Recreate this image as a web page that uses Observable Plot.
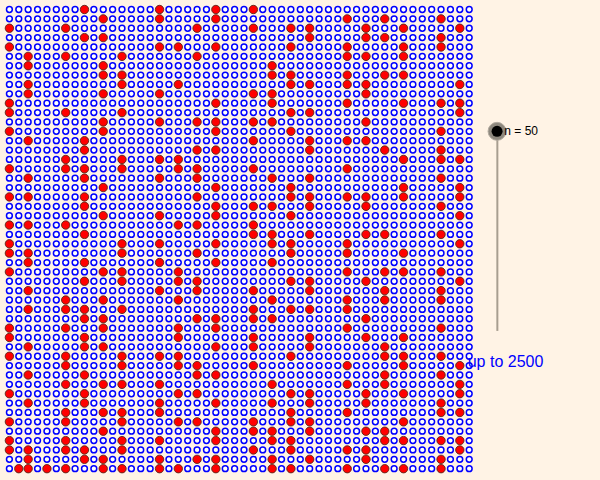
<!DOCTYPE html>
<html>
<head>
<meta charset="utf-8">
<script src="https://cdn.jsdelivr.net/npm/d3@7"></script>
<script src="https://cdn.jsdelivr.net/npm/@observablehq/plot@0.6"></script>
<style>
html,body{margin:0;padding:0;background:#fff3e5;}
svg{display:block;}
</style>
</head>
<body>
<div id="chart"></div>
<script>
const perRow = 50;
const limit = 2500;
const redValues = [
2,3,5,7,11,13,17,19,23,29,31,37,41,43,47,53,59,61,67,71,73,79,83,89,97,
101,103,107,109,113,127,131,137,139,149,151,157,163,167,173,179,181,191,193,197,199,
211,223,227,229,233,239,241,251,257,263,269,271,277,281,283,293,
307,311,313,317,331,337,347,349,353,359,367,373,379,383,389,397,
401,409,419,421,431,433,439,443,449,457,461,463,467,479,487,491,499,
503,509,521,523,541,547,557,563,569,571,577,587,593,599,
601,607,613,617,619,631,641,643,647,653,659,661,673,677,683,691,
701,709,719,727,733,739,743,751,757,761,769,773,787,797,
809,811,821,823,827,829,839,853,857,859,863,877,881,883,887,
907,911,919,929,937,941,947,953,967,971,977,983,991,997,
1009,1013,1019,1021,1031,1033,1039,1049,1051,1061,1063,1069,1087,1091,1093,1097,
1103,1109,1117,1123,1129,1151,1153,1163,1171,1181,1187,1193,
1201,1213,1217,1223,1229,1231,1237,1249,1259,1277,1279,1283,1289,1291,1297,
1301,1303,1307,1319,1321,1327,1361,1367,1373,1381,1399,
1409,1423,1427,1429,1433,1439,1447,1451,1453,1459,1471,1481,1483,1487,1489,1493,1499,
1511,1523,1531,1543,1549,1553,1559,1567,1571,1579,1583,1597,
1601,1607,1609,1613,1619,1621,1627,1637,1657,1663,1667,1669,1693,1697,1699,
1709,1721,1723,1733,1741,1747,1753,1759,1777,1783,1787,1789,
1801,1811,1823,1831,1847,1861,1867,1871,1873,1877,1879,1889,
1901,1907,1913,1931,1933,1949,1951,1973,1979,1987,1993,1997,1999,
2003,2011,2017,2027,2029,2039,2053,2063,2069,2081,2083,2087,2089,2099,
2111,2113,2129,2131,2137,2141,2143,2153,2161,2179,
2203,2207,2213,2221,2237,2239,2243,2251,2267,2269,2273,2281,2287,2293,2297,
2309,2311,2333,2339,2341,2347,2351,2357,2371,2377,2381,2383,2389,2393,2399,
2411,2417,2423,2437,2441,2447,2459,2467,2473,2477
];
const allValues = d3.range(1, limit + 1);
const sliderColumn = [52];
const sliderKnobRow = [36];
const sliderEndRow = [14.65];
const sliderLabel = ["n = 50"];
const limitLabel = ["up to 2500"];

const col = n => (n - 1) % perRow;
const row = n => Math.floor((n - 1) / perRow);

const chart = Plot.plot({
  width: 600,
  height: 480,
  margin: 0,
  style: {background: "#fff3e5", fontFamily: "'Liberation Sans', Arial, sans-serif"},
  x: {domain: [0, 49], range: [8.9, 468.7], axis: null},
  y: {domain: [0, 49], range: [468.2, 9], axis: null},
  marks: [
    Plot.dot(allValues, {x: col, y: row, r: 2.9, fill: "#ffffff", stroke: "#0000ff", strokeWidth: 1.5}),
    Plot.dot(redValues, {x: col, y: row, r: 4.2, fill: "#ff0000", stroke: "#5a2a1a", strokeWidth: 0.9}),
    Plot.ruleX(sliderColumn, {x: d => d, y1: sliderKnobRow[0], y2: sliderEndRow[0], stroke: "#a89e90", strokeWidth: 2}),
    Plot.dot(sliderColumn, {x: d => d - 0.03, y: sliderKnobRow, r: 9, fill: "#8e887e", stroke: "#b3aba0", strokeWidth: 1}),
    Plot.dot(sliderColumn, {x: d => d - 0.03, y: sliderKnobRow, r: 5.5, fill: "#000000"}),
    Plot.text(sliderLabel, {x: sliderColumn[0], y: sliderKnobRow[0], dx: 7, text: d => d, textAnchor: "start", fontSize: 12, fill: "#000000"}),
    Plot.text(limitLabel, {x: 49, y: 11.4, dx: -1.5, text: d => d, textAnchor: "start", fontSize: 16, fill: "#0000ff"})
  ]
});
document.getElementById("chart").appendChild(chart);
</script>
</body>
</html>
